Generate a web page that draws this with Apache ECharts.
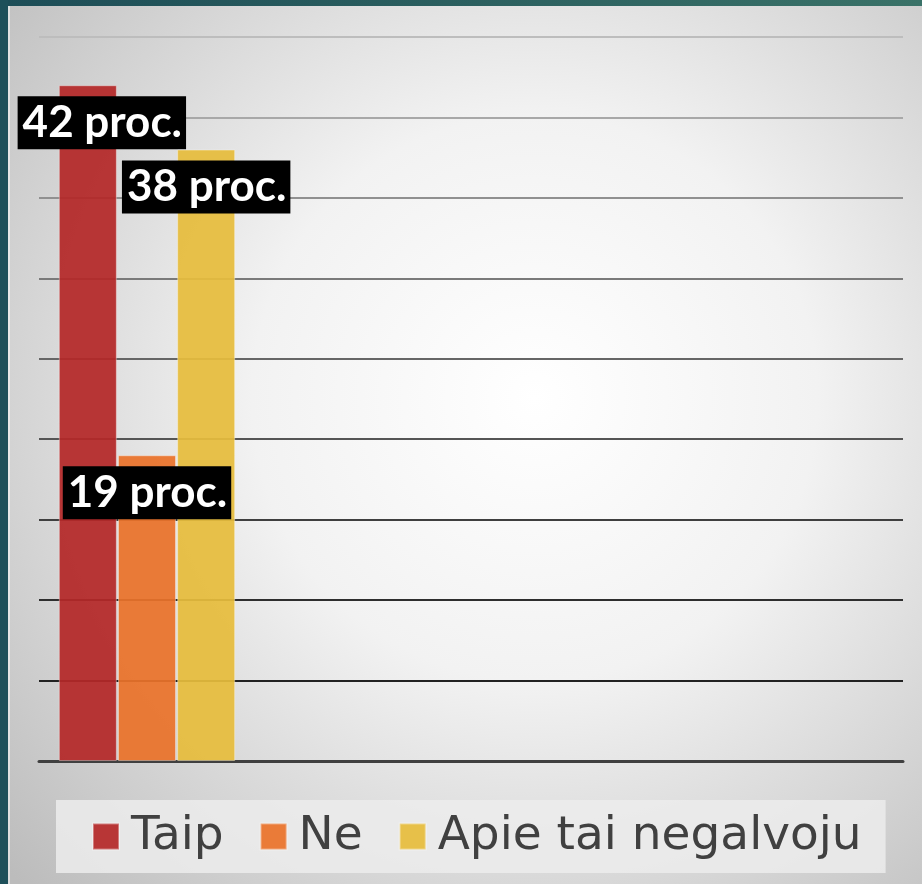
<!DOCTYPE html>
<html>
<head>
<meta charset="utf-8">
<script src="https://cdn.jsdelivr.net/npm/echarts@6/dist/echarts.min.js"></script>
<style>
  html, body { margin: 0; padding: 0; }
  #chart { width: 922px; height: 884px; }
</style>
</head>
<body>
<div id="chart"></div>
<script>
// one filled category, the other three slots stay empty like the original
const categories = ["", "", "", ""];
const seriesNames = ["Taip", "Ne", "Apie tai negalvoju"];
const taip = [42, null, null, null];
const ne = [19, null, null, null];
const apie = [38, null, null, null];
const colors = ["rgba(180,40,40,0.93)", "rgba(234,114,42,0.93)", "rgba(230,188,60,0.93)"];

const chart = echarts.init(document.getElementById("chart"));

function barLabel(offsetX) {
  return {
    show: true,
    position: "insideTop",
    distance: 11,
    offset: [offsetX, 0],
    formatter: "{c} proc.",
    color: "#fff",
    fontFamily: "Lato",
    fontWeight: "bold",
    fontSize: 44,
    backgroundColor: "#000",
    padding: [3, 4, 3, 5],
    lineHeight: 47
  };
}

function makeSeries(name, data, color, offsetX, z) {
  return {
    name: name,
    type: "bar",
    data: data,
    barWidth: 58,
    barGap: "2%",
    z: z,
    itemStyle: {
      color: color,
      borderColor: "rgba(255,255,255,0.35)",
      borderWidth: 1
    },
    label: barLabel(offsetX)
  };
}

chart.setOption({
  backgroundColor: {
    type: "radial",
    x: 0.58,
    y: 0.45,
    r: 0.8,
    colorStops: [
      { offset: 0, color: "#ffffff" },
      { offset: 0.4, color: "#f2f2f2" },
      { offset: 1, color: "#bcbcbc" }
    ]
  },
  animation: false,
  graphic: [
    {
      type: "rect",
      shape: { x: 0, y: 0, width: 922, height: 6 },
      style: {
        fill: {
          type: "linear", x: 0, y: 0, x2: 1, y2: 0,
          colorStops: [
            { offset: 0, color: "#1d4d57" },
            { offset: 1, color: "#3a7268" }
          ]
        }
      },
      z: 100
    },
    {
      type: "rect",
      shape: { x: 0, y: 0, width: 8, height: 884 },
      style: { fill: "#1e505a" },
      z: 100
    },
    {
      type: "rect",
      shape: { x: 8, y: 6, width: 2, height: 878 },
      style: { fill: "rgba(255,255,255,0.5)" },
      z: 100
    }
  ],
  grid: {
    left: 39,
    right: 19,
    top: 37,
    bottom: 123
  },
  legend: {
    data: seriesNames,
    left: 56,
    top: 800,
    icon: "rect",
    itemWidth: 26,
    itemHeight: 26,
    itemGap: 36,
    backgroundColor: "rgba(236,236,236,0.85)",
    padding: [13, 24, 13, 36],
    textStyle: {
      color: "#404040",
      fontFamily: "DejaVu Sans",
      fontSize: 47,
      lineHeight: 46,
      padding: [0, 0, 0, 7]
    }
  },
  xAxis: {
    type: "category",
    data: categories,
    axisLine: { lineStyle: { color: "#404040", width: 3 } },
    axisTick: { show: false },
    axisLabel: { show: false }
  },
  yAxis: {
    type: "value",
    min: 0,
    max: 45,
    interval: 5,
    axisLine: { show: false },
    axisTick: { show: false },
    axisLabel: { show: false },
    splitLine: {
      lineStyle: {
        width: 2,
        color: ["#404040", "#222222", "#2e2e2e", "#3f3f3f", "#555555",
                "#666666", "#7a7a7a", "#909090", "#a8a8a8", "#bdbdbd"]
      }
    }
  },
  series: [
    makeSeries(seriesNames[0], taip, colors[0], 14, 2),
    makeSeries(seriesNames[1], ne, colors[1], 0, 4),
    makeSeries(seriesNames[2], apie, colors[2], 0, 3)
  ]
});
</script>
</body>
</html>
